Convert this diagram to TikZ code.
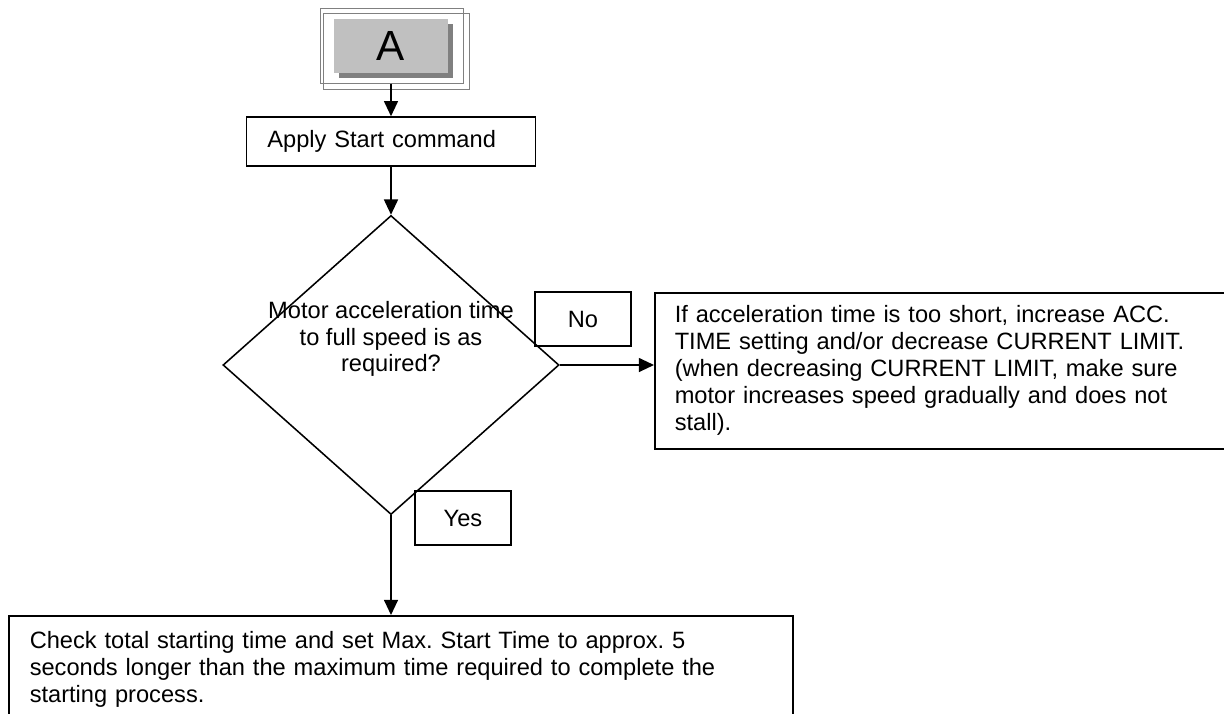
\documentclass[tikz,border=0pt]{standalone}
\usepackage{fontspec}
\setmainfont{Liberation Sans}
\usetikzlibrary{arrows.meta, shapes.geometric}
\definecolor{lightgrey}{HTML}{C0C0C0}
\definecolor{darkgrey}{HTML}{808080}

\begin{document}
\frenchspacing
\begin{tikzpicture}[x=0.025cm, y=-0.025cm, line width=1.1pt,
  font=\fontsize{16.8}{19.2}\selectfont,
  box/.style={draw, rectangle, inner sep=0pt},
  frame/.style={draw=darkgrey, line width=0.7pt, inner sep=0pt},
  flow/.style={-{Triangle[length=0.38cm, width=0.35cm]}},
]
  \useasboundingbox (0,0) rectangle (1224,713);
  \clip (0,0) rectangle (1224,713);
  % connector A
  \node[frame, minimum width=3.55cm, minimum height=1.875cm] (frameone) at (392,45.5) {};
  \node[frame, minimum width=3.625cm, minimum height=1.9cm] (frametwo) at (396.5,51) {};
  \node[fill=darkgrey, minimum width=2.825cm, minimum height=1.35cm] (ashadow) at (396,51) {};
  \node[fill=lightgrey, minimum width=2.825cm, minimum height=1.35cm,
    font=\fontsize{30}{30}\selectfont] (abox) at (391,46) {A};
  \node[box, minimum width=7.225cm, minimum height=1.225cm, text width=6.175cm,
    align=left] (apply) at (391,141.5) {Apply Start command};
  \node[draw, diamond, minimum width=8.4cm, minimum height=7.475cm,
    inner sep=0pt] (decide) at (391,365) {};
  \node[align=center, font=\fontsize{16.8}{18.6}\selectfont] (decidetext) at (391,339)
    {Motor acceleration time\\to full speed is as\\required?};
  \node[box, minimum width=2.4cm, minimum height=1.35cm] (nobox) at (583,319) {No};
  \node[box, minimum width=2.4cm, minimum height=1.35cm] (yesbox) at (463,518) {Yes};
  \node[box, anchor=north west, minimum width=14.9cm, minimum height=3.9cm,
    text width=13.9cm, align=left] (adjust) at (654,292)
    {If acceleration time is too short, increase ACC.\\
     TIME setting and/or decrease CURRENT LIMIT.\\
     (when decreasing CURRENT LIMIT, make sure\\
     motor increases speed gradually and does not\\
     stall).};
  \node[box, anchor=north west, inner xsep=0.525cm, inner ysep=0.4cm,
    text width=18.55cm, align=left] (check) at (8,615)
    {Check total starting time and set Max. Start Time to approx. 5\\
     seconds longer than the maximum time required to complete the\\
     starting process.};
  \draw[flow] (frameone.south -| abox) -- (apply.north);
  \draw[flow] (apply.south) -- (decide.north);
  \draw[flow] (decide.east) -- (decide.east -| adjust.west);
  \draw[flow] (decide.south) -- (decide.south |- check.north);
\end{tikzpicture}
\end{document}
